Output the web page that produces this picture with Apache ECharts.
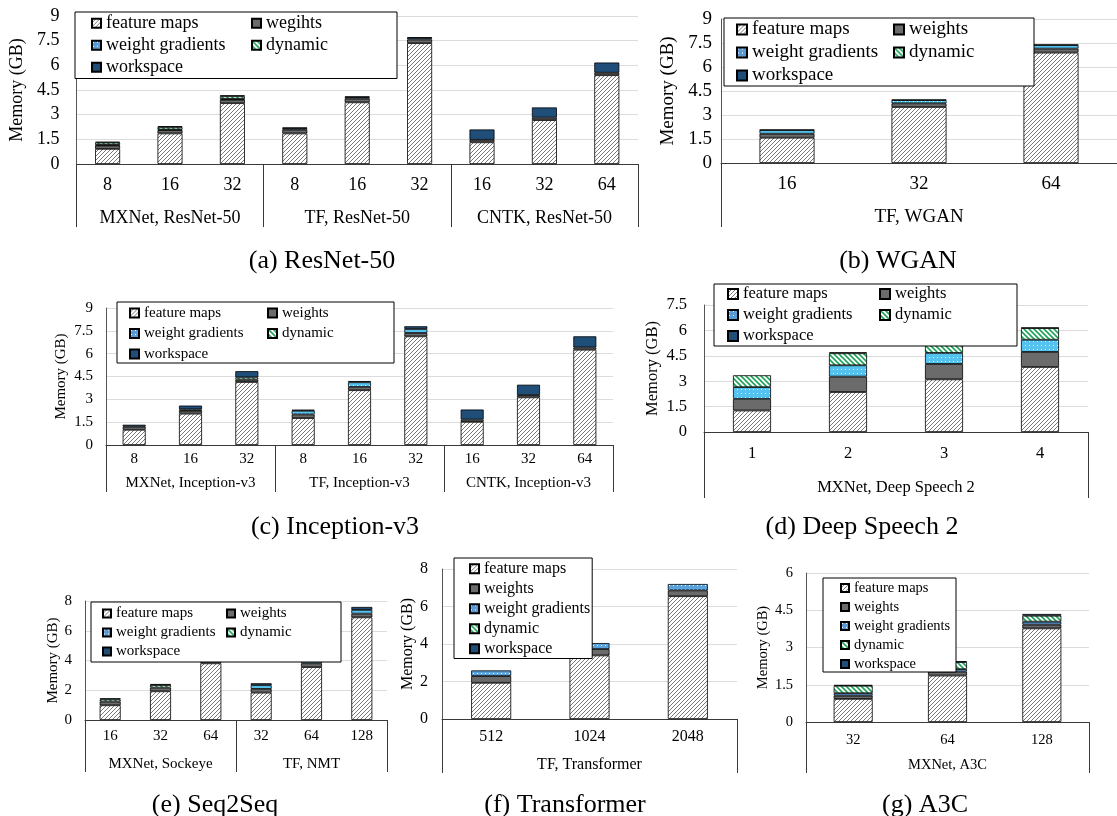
<!DOCTYPE html>
<html>
<head>
<meta charset="utf-8">
<script src="https://cdn.jsdelivr.net/npm/echarts@6/dist/echarts.min.js"></script>
<style>
  html, body { margin: 0; padding: 0; background: #fff; }
  #main { width: 1117px; height: 816px; }
</style>
</head>
<body>
<div id="main"></div>
<script>
// ---- data (GB) ----
// (a) ResNet-50
var aCats = ['8', '16', '32', '8', '16', '32', '16', '32', '64'];
var aGroups = ['MXNet, ResNet-50', 'TF, ResNet-50', 'CNTK, ResNet-50'];
var aNames = ['feature maps', 'wegihts', 'weight gradients', 'dynamic', 'workspace'];
var aFeature = [0.92, 1.86, 3.7, 1.86, 3.75, 7.35, 1.32, 2.67, 5.4];
var aWeights = [0.2, 0.2, 0.2, 0.22, 0.22, 0.22, 0.15, 0.15, 0.15];
var aGrads = [0.04, 0.04, 0.06, 0.1, 0.1, 0.1, 0, 0, 0];
var aDynamic = [0.14, 0.15, 0.16, 0, 0, 0, 0, 0, 0];
var aWorkspace = [0.05, 0.05, 0.06, 0.03, 0.03, 0.03, 0.63, 0.62, 0.62];

// (b) WGAN
var bCats = ['16', '32', '64'];
var bGroups = ['TF, WGAN'];
var bNames = ['feature maps', 'weights', 'weight gradients', 'dynamic', 'workspace'];
var bFeature = [1.58, 3.5, 6.9];
var bWeights = [0.25, 0.23, 0.25];
var bGrads = [0.23, 0.2, 0.22];
var bDynamic = [0, 0, 0];
var bWorkspace = [0.02, 0.03, 0.03];

// (c) Inception-v3
var cCats = ['8', '16', '32', '8', '16', '32', '16', '32', '64'];
var cGroups = ['MXNet, Inception-v3', 'TF, Inception-v3', 'CNTK, Inception-v3'];
var cNames = ['feature maps', 'weights', 'weight gradients', 'dynamic', 'workspace'];
var cFeature = [1.0, 2.06, 4.14, 1.77, 3.6, 7.14, 1.52, 3.13, 6.26];
var cWeights = [0.2, 0.18, 0.15, 0.24, 0.22, 0.22, 0.15, 0.15, 0.15];
var cGrads = [0, 0, 0, 0.24, 0.3, 0.26, 0, 0, 0];
var cDynamic = [0, 0.1, 0.15, 0, 0, 0, 0, 0, 0];
var cWorkspace = [0.13, 0.25, 0.41, 0.07, 0.08, 0.18, 0.66, 0.68, 0.73];

// (d) Deep Speech 2
var dCats = ['1', '2', '3', '4'];
var dGroups = ['MXNet, Deep Speech 2'];
var dNames = ['feature maps', 'weights', 'weight gradients', 'dynamic', 'workspace'];
var dFeature = [1.27, 2.36, 3.11, 3.84];
var dWeights = [0.69, 0.91, 0.91, 0.89];
var dGrads = [0.69, 0.67, 0.65, 0.72];
var dDynamic = [0.7, 0.71, 0.7, 0.69];
var dWorkspace = [0, 0.06, 0.05, 0.02];

// (e) Seq2Seq
var eCats = ['16', '32', '64', '32', '64', '128'];
var eGroups = ['MXNet, Sockeye', 'TF, NMT'];
var eNames = ['feature maps', 'weights', 'weight gradients', 'dynamic', 'workspace'];
var eFeature = [0.99, 1.93, 3.81, 1.84, 3.56, 6.9];
var eWeights = [0.25, 0.25, 0.25, 0.25, 0.25, 0.25];
var eGrads = [0, 0, 0, 0.25, 0.25, 0.25];
var eDynamic = [0.15, 0.17, 0.17, 0, 0, 0];
var eWorkspace = [0.07, 0.07, 0.07, 0.13, 0.18, 0.2];

// (f) Transformer
var fCats = ['512', '1024', '2048'];
var fGroups = ['TF, Transformer'];
var fNames = ['feature maps', 'weights', 'weight gradients', 'dynamic', 'workspace'];
var fFeature = [1.93, 3.39, 6.55];
var fWeights = [0.36, 0.34, 0.31];
var fGrads = [0.3, 0.32, 0.34];
var fDynamic = [0, 0, 0];
var fWorkspace = [0, 0, 0];

// (g) A3C
var gCats = ['32', '64', '128'];
var gGroups = ['MXNet, A3C'];
var gNames = ['feature maps', 'weights', 'weight gradients', 'dynamic', 'workspace'];
var gFeature = [0.93, 1.87, 3.77];
var gWeights = [0.13, 0.16, 0.15];
var gGrads = [0.1, 0.1, 0.12];
var gDynamic = [0.3, 0.28, 0.24];
var gWorkspace = [0.03, 0.04, 0.07];

var captions = ['(a) ResNet-50', '(b) WGAN', '(c) Inception-v3', '(d) Deep Speech 2',
                '(e) Seq2Seq', '(f) Transformer', '(g) A3C'];

// ---- look ----
var FONT = 'Liberation Serif, Times New Roman, serif';

function hatch(bg, fg, lw, step, slash) {
  var c = document.createElement('canvas');
  c.width = c.height = step;
  var g = c.getContext('2d');
  g.fillStyle = bg; g.fillRect(0, 0, step, step);
  g.strokeStyle = fg; g.lineWidth = lw;
  g.beginPath();
  if (slash) {
    g.moveTo(-1, step + 1); g.lineTo(step + 1, -1);
    g.moveTo(-1, 1); g.lineTo(1, -1);
    g.moveTo(step - 1, step + 1); g.lineTo(step + 1, step - 1);
  } else {
    g.moveTo(-1, -1); g.lineTo(step + 1, step + 1);
    g.moveTo(step - 1, -1); g.lineTo(step + 1, 1);
    g.moveTo(-1, step - 1); g.lineTo(1, step + 1);
  }
  g.stroke();
  return { image: c, repeat: 'repeat' };
}
function dotted(bg) {
  var c = document.createElement('canvas');
  c.width = 4; c.height = 4;
  var g = c.getContext('2d');
  g.fillStyle = bg; g.fillRect(0, 0, 4, 4);
  g.fillStyle = '#ffffff'; g.fillRect(1, 1, 1, 1);
  return { image: c, repeat: 'repeat' };
}

var fmFill = hatch('#ffffff', '#7a7a7a', 1, 4, true);
var dynFill = hatch('#ffffff', '#1fa35a', 1.6, 5, false);
var wtFill = '#6b6b6b';
var wsFill = '#1f4e79';
var gradSteel = dotted('#5b9bd5');
var gradSky = dotted('#55c3ef');

// per panel: data, layout
var panels = [
  { cats: aCats, groups: aGroups, names: aNames, d: [aFeature, aWeights, aGrads, aDynamic, aWorkspace],
    grid: [70, 16, 568, 148], max: 9, step: 1.5, bw: 25, fs: 18, nameGap: 43, tick: 17,
    bottom: 63, catM: 12, grpM: 0, grad: gradSteel,
    lg: [75, 12, 395, 77, 16, 159, 23, 21.5, 18, 9, 2], cap: [322, 261] },
  { cats: bCats, groups: bGroups, names: bNames, d: [bFeature, bWeights, bGrads, bDynamic, bWorkspace],
    grid: [721, 19, 411, 144], max: 9, step: 1.5, bw: 55, fs: 19, nameGap: 43, tick: 9,
    bottom: 64, catM: 12, grpM: 0, grad: gradSky,
    lg: [724, 18, 1032, 77, 12, 156, 28, 20, 19, 10, 2], cap: [898, 261] },
  { cats: cCats, groups: cGroups, names: cNames, d: [cFeature, cWeights, cGrads, cDynamic, cWorkspace],
    grid: [106, 308, 507, 137], max: 9, step: 1.5, bw: 23, fs: 15, nameGap: 37, tick: 13,
    bottom: 47, catM: 7, grpM: 1, grad: gradSky,
    lg: [117, 302, 392, 363, 12, 137, 313, 20.5, 15, 9, 2], cap: [335, 527] },
  { cats: dCats, groups: dGroups, names: dNames, d: [dFeature, dWeights, dGrads, dDynamic, dWorkspace],
    grid: [704, 305, 384, 127], max: 7.5, step: 1.5, bw: 38, fs: 16.5, nameGap: 43, tick: 17,
    bottom: 66, catM: 13, grpM: 2, grad: gradSky,
    lg: [714, 284, 1015, 340, 13, 151, 293, 19, 16.5, 10, 2], cap: [862, 527] },
  { cats: eCats, groups: eGroups, names: eNames, d: [eFeature, eWeights, eGrads, eDynamic, eWorkspace],
    grid: [85, 601, 302, 119], max: 8, step: 2, bw: 21, fs: 15, nameGap: 24, tick: 13,
    bottom: 52, catM: 9, grpM: 0, grad: gradSky,
    lg: [91, 602, 339, 647, 11, 123, 611, 14, 15, 8, 2], cap: [215, 805] },
  { cats: fCats, groups: fGroups, names: fNames, d: [fFeature, fWeights, fGrads, fDynamic, fWorkspace],
    grid: [442, 569, 295, 150], max: 8, step: 2, bw: 40, fs: 16, nameGap: 24, tick: 14,
    bottom: 54, catM: 10, grpM: 0, grad: dotted('#5ba3dc'),
    lg: [454, 558, 588, 641, 15, 0, 567, 16.5, 16, 9, 1], cap: [565, 805] },
  { cats: gCats, groups: gGroups, names: gNames, d: [gFeature, gWeights, gGrads, gDynamic, gWorkspace],
    grid: [806, 573, 283, 149], max: 6, step: 1.5, bw: 39, fs: 14.5, nameGap: 34, tick: 13,
    bottom: 51, catM: 11, grpM: 0, grad: gradSteel,
    lg: [823, 578, 955, 653, 17, 0, 586, 15.2, 14.5, 8, 1], cap: [925, 805] }
];

function legendBox(names, p) {
  var L = p[0], T = p[1], R = p[2], B = p[3], padL = p[4], colPitch = p[5];
  var row1 = p[6], rowPitch = p[7], font = p[8], icon = p[9], cols = p[10];
  var gap = 4, lh = rowPitch - gap, padR = 2;
  var nRows = cols === 2 ? 3 : 5;
  var padT = Math.max(0, row1 - T - lh / 2);
  var padB = Math.max(0, B - (row1 + rowPitch * (nRows - 1)) - lh / 2);
  var wA, wB, contentW;
  if (cols === 2) {
    wA = colPitch - icon - 5 - gap;
    wB = (R - padR) - (L + padL + colPitch) - icon - 5;
    contentW = (icon + 5 + wA) + gap + (icon + 5 + wB);
  } else {
    wA = (R - padR) - (L + padL) - icon - 5;
    wB = wA;
    contentW = icon + 5 + wA;
  }
  return {
    data: names, orient: cols === 2 ? 'horizontal' : 'vertical',
    left: L, top: T, width: contentW + 40, height: 200,
    padding: [padT, padR, padB, padL], itemGap: gap,
    itemWidth: icon, itemHeight: icon, icon: 'rect',
    backgroundColor: '#fff', borderColor: '#000', borderWidth: 1,
    selectedMode: false,
    formatter: function (n) {
      var k = names.indexOf(n);
      return (cols === 2 && k % 2 === 1 ? '{b|' : '{a|') + n + '}';
    },
    textStyle: {
      fontFamily: FONT, fontSize: font, color: '#000', lineHeight: lh,
      rich: {
        a: { width: wA, lineHeight: lh, fontSize: font, fontFamily: FONT, color: '#000' },
        b: { width: wB, lineHeight: lh, fontSize: font, fontFamily: FONT, color: '#000' }
      }
    }
  };
}

var grids = [], xAxes = [], yAxes = [], series = [], legends = [], texts = [];
panels.forEach(function (P, i) {
  grids.push({ left: P.grid[0], top: P.grid[1], width: P.grid[2], height: P.grid[3] });
  xAxes.push({
    type: 'category', gridIndex: i, data: P.cats,
    axisLine: { lineStyle: { color: '#3a3a3a', width: 1 } },
    axisTick: { show: false },
    axisLabel: { margin: P.catM, fontFamily: FONT, fontSize: P.fs, color: '#000' }
  });
  xAxes.push({
    type: 'category', gridIndex: i, data: P.groups, position: 'bottom', offset: P.bottom,
    axisLine: { show: false },
    axisTick: { show: true, inside: true, length: P.bottom, lineStyle: { color: '#3a3a3a', width: 1 } },
    axisLabel: { inside: true, margin: P.grpM, fontFamily: FONT, fontSize: P.fs, color: '#000' }
  });
  yAxes.push({
    type: 'value', gridIndex: i, min: 0, max: P.max, interval: P.step,
    name: 'Memory (GB)', nameLocation: 'middle', nameRotate: 90, nameGap: P.nameGap,
    nameTextStyle: { fontFamily: FONT, fontSize: P.fs, color: '#000' },
    axisLine: { show: true, lineStyle: { color: '#555', width: 1 } },
    axisTick: { show: false },
    axisLabel: { margin: P.tick, fontFamily: FONT, fontSize: P.fs, color: '#000' },
    splitLine: { lineStyle: { color: '#dcdcdc', width: 1.2 } }
  });
  var fills = [fmFill, wtFill, P.grad, dynFill, wsFill];
  P.names.forEach(function (n, k) {
    series.push({
      name: n, type: 'bar', stack: 'p' + i, xAxisIndex: i * 2, yAxisIndex: i,
      barWidth: P.bw,
      itemStyle: { color: fills[k], borderColor: '#000', borderWidth: 0.8 },
      emphasis: { disabled: true },
      data: P.d[k].map(function (v) { return v === 0 ? '-' : v; })
    });
  });
  legends.push(legendBox(P.names, P.lg));
  texts.push({
    type: 'text', x: P.cap[0], y: P.cap[1],
    style: { text: captions[i], fill: '#000', font: '26px ' + FONT,
             textAlign: 'center', textVerticalAlign: 'middle' }
  });
});

var myChart = echarts.init(document.getElementById('main'), null, { renderer: 'canvas' });
myChart.setOption({
  animation: false,
  backgroundColor: '#fff',
  grid: grids,
  xAxis: xAxes,
  yAxis: yAxes,
  legend: legends,
  graphic: texts,
  series: series
});
</script>
</body>
</html>
